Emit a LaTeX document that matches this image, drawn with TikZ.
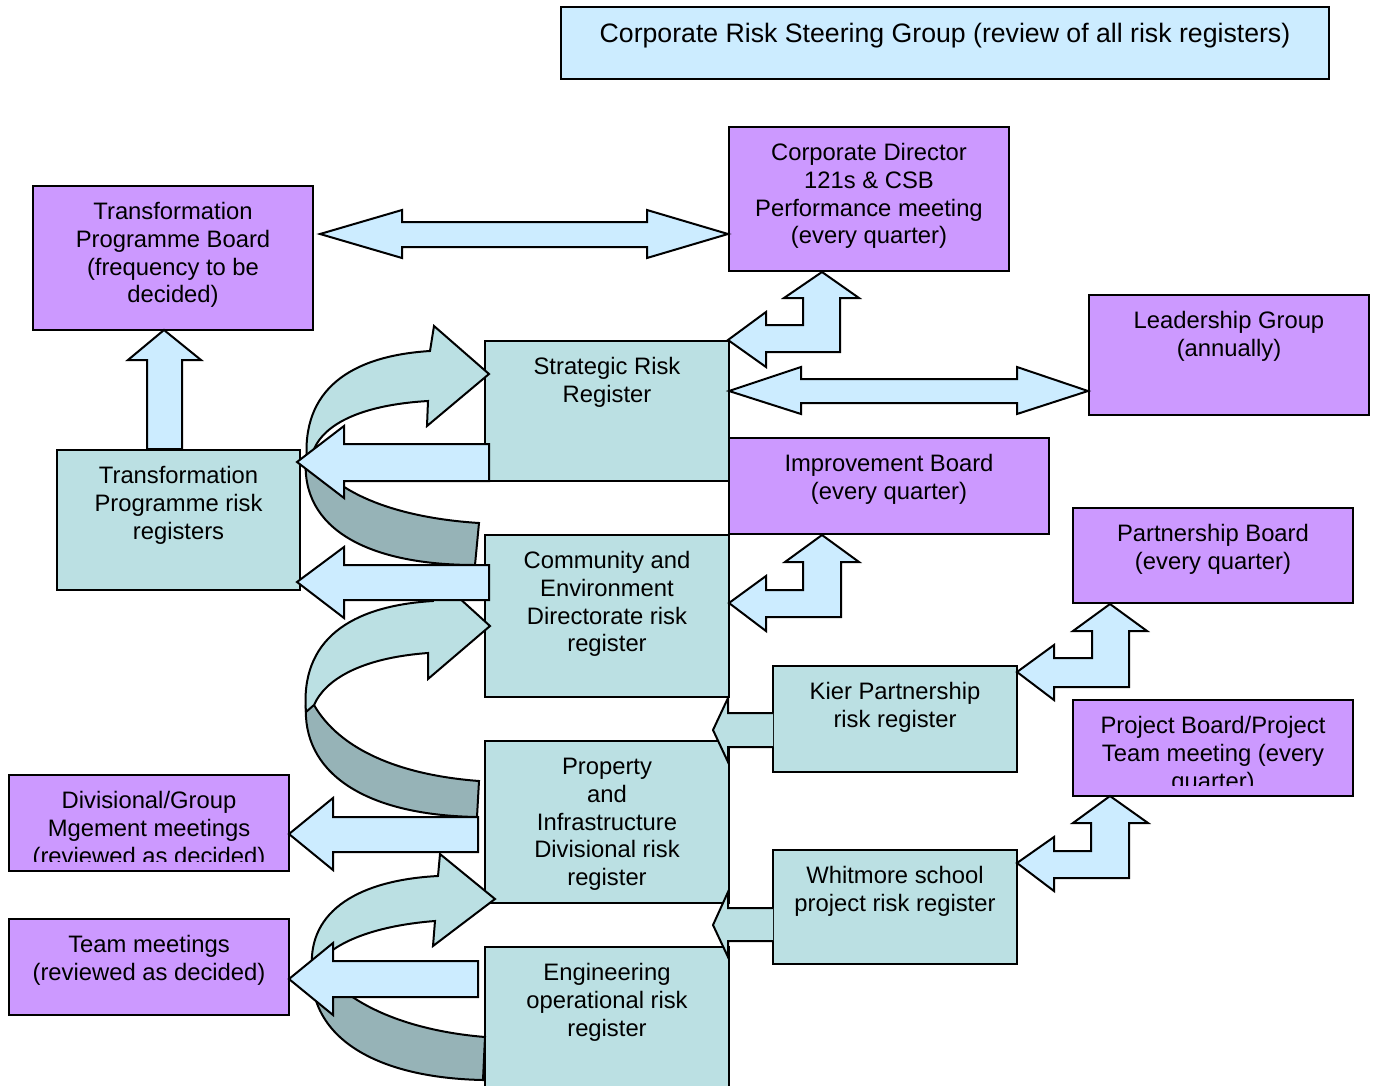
\documentclass[tikz,border=0pt]{standalone}
\usepackage{fontspec}
\setmainfont{Liberation Sans}
\usetikzlibrary{fit}
\definecolor{purp}{HTML}{CC99FF}
\definecolor{tealbox}{HTML}{BBE0E3}
\definecolor{lblue}{HTML}{CCECFF}
\definecolor{dteal}{HTML}{96B3B7}
\newcommand\mybox[6]{\node[boxst,fill=#6,fit={(#2,#3) (#4,#5)}] (#1) {};}
\tikzset{
  boxst/.style={draw=black,line width=1.5pt,inner sep=0pt,outer sep=0pt},
  txt/.style={font=\fontsize{17.85}{20.8}\selectfont,align=center,inner sep=0pt,anchor=north},
  bigtxt/.style={font=\fontsize{20}{24}\selectfont,align=center,inner sep=0pt,anchor=north},
  blockarrow/.style={draw=black,line width=1.5pt,fill=lblue},
  tealarrow/.style={draw=black,line width=1.5pt,fill=tealbox},
  backarrow/.style={draw=black,line width=1.5pt,fill=dteal},
}
\begin{document}
\begin{tikzpicture}[x=0.75pt,y=-0.75pt]
\clip (0,0) rectangle (1379,1086);
\fill[white] (0,0) rectangle (1379,1086);

% ---- boxes ----
\mybox{crsg}{561}{7}{1329}{79}{lblue}
\mybox{tpb}{33}{186}{313}{330}{purp}
\mybox{cd}{729}{127}{1009}{271}{purp}
\mybox{lg}{1089}{295}{1369}{415}{purp}
\mybox{srr}{485}{341}{729}{481}{tealbox}
\mybox{ib}{729}{438}{1049}{534}{purp}
\mybox{pb}{1073}{508}{1353}{603}{purp}
\mybox{tpr}{57}{450}{300}{590}{tealbox}
\mybox{ce}{485}{535}{729}{697}{tealbox}
\mybox{kier}{773}{666}{1017}{772}{tealbox}
\mybox{pj}{1073}{700}{1353}{796}{purp}
\mybox{pi}{485}{741}{729}{903}{tealbox}
\mybox{dg}{9}{775}{289}{871}{purp}
\mybox{wh}{773}{850}{1017}{964}{tealbox}
\mybox{tm}{9}{919}{289}{1015}{purp}
\mybox{eng}{485}{947}{729}{1110}{tealbox}

% ---- texts ----
\node[bigtxt] (crsg-t) at (945,20) {\strut Corporate Risk Steering Group (review of all risk registers)};
\node[txt] (tpb-t) at (173,200) {\strut Transformation\\Programme Board\\(frequency to be\\decided)};
\node[txt] (cd-t) at (869,141) {\strut Corporate Director\\121s \& CSB\\Performance meeting\\(every quarter)};
\node[txt] (lg-t) at (1229,309) {\strut Leadership Group\\(annually)};
\node[txt] (srr-t) at (607,355) {\strut Strategic Risk\\Register};
\node[txt] (ib-t) at (889,452) {\strut Improvement Board\\(every quarter)};
\node[txt] (pb-t) at (1213,522) {\strut Partnership Board\\(every quarter)};
\node[txt] (tpr-t) at (178.5,464) {\strut Transformation\\Programme risk\\registers};
\node[txt] (ce-t) at (607,549) {\strut Community and\\Environment\\Directorate risk\\register};
\node[txt] (kier-t) at (895,680) {\strut Kier Partnership\\risk register};
\begin{scope}
\clip (1073,700) rectangle (1353,785);
\node[txt] (pj-t) at (1213,714) {\strut Project Board/Project\\Team meeting (every\\quarter)};
\end{scope}
\node[txt] (pi-t) at (607,755) {\strut Property\\and\\Infrastructure\\Divisional risk\\register};
\begin{scope}
\clip (9,775) rectangle (289,861);
\node[txt] (dg-t) at (149,789) {\strut Divisional/Group\\Mgement meetings\\(reviewed as decided)};
\end{scope}
\node[txt] (wh-t) at (895,864) {\strut Whitmore school\\project risk register};
\node[txt] (tm-t) at (149,933) {\strut Team meetings\\(reviewed as decided)};
\node[txt] (eng-t) at (607,961) {\strut Engineering\\operational risk\\register};

% ---- curved arrows ----
\path[backarrow] (306,458) .. controls (300,530) and (370,565) .. (475,565) -- (479,523) .. controls (400,518) and (335,495) .. (312,455) -- cycle;
\path[tealarrow] (307,462) .. controls (301,390) and (350,356) .. (430,351) -- (434,326) -- (489,374) -- (427,426) -- (428,401) .. controls (360,405) and (320,425) .. (312,455) -- cycle;

\path[backarrow] (306,705) .. controls (302,770) and (360,815) .. (477,817) -- (479,781) .. controls (400,775) and (340,750) .. (314,705) -- cycle;
\path[tealarrow] (306,712) .. controls (300,640) and (350,606) .. (433,601) -- (436,577) -- (490,626) -- (428,679) -- (428,653) .. controls (360,658) and (325,680) .. (314,705) -- cycle;

\path[backarrow] (312,962) .. controls (305,1040) and (380,1078) .. (483,1080) -- (485,1037) .. controls (400,1030) and (340,1000) .. (318,962) -- cycle;
\path[tealarrow] (312,968) .. controls (308,910) and (360,880) .. (438,876) -- (440,854) -- (495,899) -- (433,946) -- (435,921) .. controls (370,926) and (330,945) .. (318,965) -- cycle;

% ---- straight left arrows ----
\path[blockarrow] (489,444) -- (344,444) -- (344,426) -- (297,462) -- (344,498) -- (344,481) -- (489,481) -- cycle;
\path[blockarrow] (489,565) -- (344,565) -- (344,547) -- (297,582) -- (344,618) -- (344,600) -- (489,600) -- cycle;
\path[blockarrow] (478,817) -- (333,817) -- (333,798) -- (289,834) -- (333,870) -- (333,852) -- (478,852) -- cycle;
\path[blockarrow] (478,961) -- (333,961) -- (333,943) -- (289,979) -- (333,1015) -- (333,997) -- (478,997) -- cycle;

% ---- up arrow ----
\path[blockarrow] (164,330) -- (201,360) -- (182,360) -- (182,449) -- (147,449) -- (147,360) -- (128,360) -- cycle;

% ---- double arrows ----
\path[blockarrow] (320,234) -- (402,210) -- (402,222) -- (647,222) -- (647,210) -- (728,234) -- (647,258) -- (647,247) -- (402,247) -- (402,258) -- cycle;
\path[blockarrow] (729,391) -- (801,367) -- (801,379) -- (1017,379) -- (1017,367) -- (1088,391) -- (1017,414) -- (1017,403) -- (801,403) -- (801,414) -- cycle;

% ---- bent arrows ----
\path[blockarrow] (822,272) -- (859,298) -- (840,298) -- (840,352) -- (766,352) -- (766,367) -- (728,340) -- (766,312) -- (766,325) -- (803,325) -- (803,298) -- (784,298) -- cycle;
\path[blockarrow] (822,535) -- (859,562) -- (841,562) -- (841,617) -- (766,617) -- (766,631) -- (729,603) -- (766,576) -- (766,590) -- (803,590) -- (803,562) -- (785,562) -- cycle;
\path[blockarrow] (1110,604) -- (1147,631) -- (1129,631) -- (1129,687) -- (1054,687) -- (1054,700) -- (1017,672) -- (1054,645) -- (1054,658) -- (1092,658) -- (1092,631) -- (1073,631) -- cycle;
\path[blockarrow] (1110,796) -- (1148,823) -- (1129,823) -- (1129,878) -- (1054,878) -- (1054,891) -- (1017,863) -- (1054,837) -- (1054,851) -- (1091,851) -- (1091,823) -- (1073,823) -- cycle;

% ---- small teal arrows ----
\path[tealarrow] (773,713) -- (728,713) -- (728,698) -- (713,730) -- (728,762) -- (728,747) -- (773,747);
\path[tealarrow] (773,908) -- (728,908) -- (728,892) -- (713,925) -- (728,957) -- (728,941) -- (773,941);
\end{tikzpicture}
\end{document}
